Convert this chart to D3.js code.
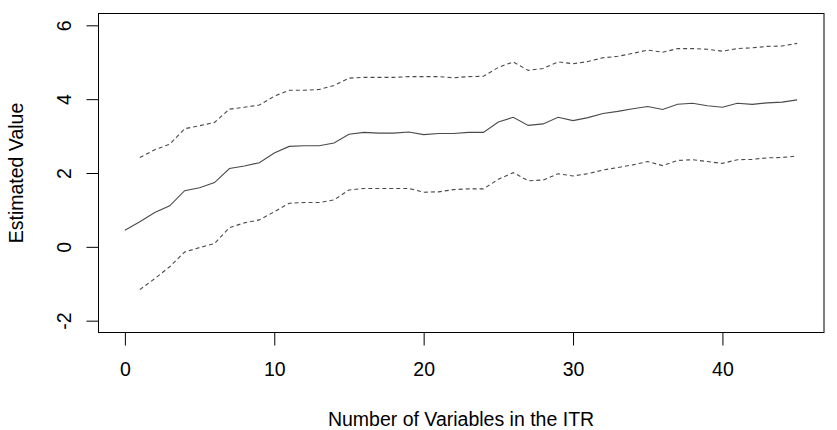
<!DOCTYPE html>
<html>
<head>
<meta charset="utf-8">
<script src="https://cdn.jsdelivr.net/npm/d3@7"></script>
<style>
  body { margin: 0; background: #fff; }
  svg text { font-family: "Liberation Sans", Arial, sans-serif; fill: #000; }
</style>
</head>
<body>
<div id="chart"></div>
<script>
// number of variables in the ITR
var vars = [0,1,2,3,4,5,6,7,8,9,10,11,12,13,14,15,16,17,18,19,20,21,22,23,24,25,26,27,28,29,30,31,32,33,34,35,36,37,38,39,40,41,42,43,44,45]
var est = [0.45,0.68,0.93,1.11,1.52,1.60,1.74,2.12,2.19,2.28,
  2.54,2.72,2.74,2.74,2.81,3.05,3.10,3.08,3.08,3.11,
  3.04,3.07,3.07,3.10,3.10,3.38,3.51,3.29,3.33,3.51,
  3.42,3.50,3.61,3.67,3.74,3.80,3.72,3.86,3.89,3.82,
  3.78,3.89,3.86,3.90,3.92,3.98]
// bounds start at 1 variable
var upper = [2.42,2.63,2.78,3.20,3.28,3.37,3.73,3.78,3.84,
  4.08,4.24,4.24,4.26,4.37,4.57,4.59,4.59,4.59,4.61,
  4.61,4.61,4.58,4.61,4.62,4.86,5.01,4.78,4.83,5.01,
  4.96,5.02,5.12,5.16,5.24,5.33,5.27,5.37,5.37,5.35,
  5.30,5.37,5.39,5.43,5.44,5.51]
var lower = [-1.16,-0.86,-0.54,-0.14,-0.02,0.09,0.52,0.65,0.73,
  0.95,1.18,1.20,1.20,1.27,1.54,1.58,1.58,1.58,1.58,
  1.48,1.49,1.55,1.57,1.57,1.83,2.01,1.79,1.81,1.98,
  1.92,1.98,2.08,2.15,2.22,2.31,2.20,2.34,2.36,2.31,
  2.26,2.36,2.37,2.41,2.42,2.46]
var xTicks = [0,10,20,30,40]
var yTicks = [-2,0,2,4,6]

var width = 837, height = 430
var fs = 19.5
var svg = d3.select("#chart").append("svg").attr("width", width).attr("height", height)

// R style 4% padding around the ranges
var x = d3.scaleLinear().domain([-1.8, 46.8]).range([98, 824])
var y = d3.scaleLinear().domain([-2.32, 6.32]).range([332.5, 13.5])

var line = d3.line().x(d => x(d[0])).y(d => y(d[1]))
var bandX = vars.slice(1)

svg.append("path").datum(vars.map((v, i) => [v, est[i]]))
  .attr("d", line).attr("fill", "none").attr("stroke", "#4a4a4a").attr("stroke-width", 1.1)
svg.append("path").datum(bandX.map((v, i) => [v, upper[i]]))
  .attr("d", line).attr("fill", "none").attr("stroke", "#4a4a4a").attr("stroke-width", 1.1)
  .attr("stroke-dasharray", "4,3")
svg.append("path").datum(bandX.map((v, i) => [v, lower[i]]))
  .attr("d", line).attr("fill", "none").attr("stroke", "#4a4a4a").attr("stroke-width", 1.1)
  .attr("stroke-dasharray", "4,3")

// box
svg.append("rect").attr("x", 98.5).attr("y", 13.5).attr("width", 725.5).attr("height", 319)
  .attr("fill", "none").attr("stroke", "#000")

var xAxis = svg.append("g").attr("transform", "translate(0,332.5)")
  .call(d3.axisBottom(x).tickValues(xTicks).tickSize(13).tickSizeOuter(0).tickPadding(17))
xAxis.select(".domain").remove()
xAxis.selectAll("text").attr("font-size", fs).style("font-family", "Liberation Sans, Arial, sans-serif")

var yAxis = svg.append("g").attr("transform", "translate(98.5,0)")
  .call(d3.axisLeft(y).tickValues(yTicks).tickSize(12).tickSizeOuter(0))
yAxis.select(".domain").remove()
yAxis.selectAll("text").remove()
yAxis.selectAll(".tick").append("text")
  .attr("transform", "translate(-28,0) rotate(-90)")
  .attr("text-anchor", "middle").attr("font-size", fs)
  .style("font-family", "Liberation Sans, Arial, sans-serif")
  .text(d => d)

svg.append("text").attr("x", x(22.5)).attr("y", 426).attr("text-anchor", "middle")
  .attr("font-size", fs).text("Number of Variables in the ITR")
svg.append("text").attr("transform", "translate(23," + y(2) + ") rotate(-90)")
  .attr("text-anchor", "middle").attr("font-size", fs).text("Estimated Value")
</script>
</body>
</html>
